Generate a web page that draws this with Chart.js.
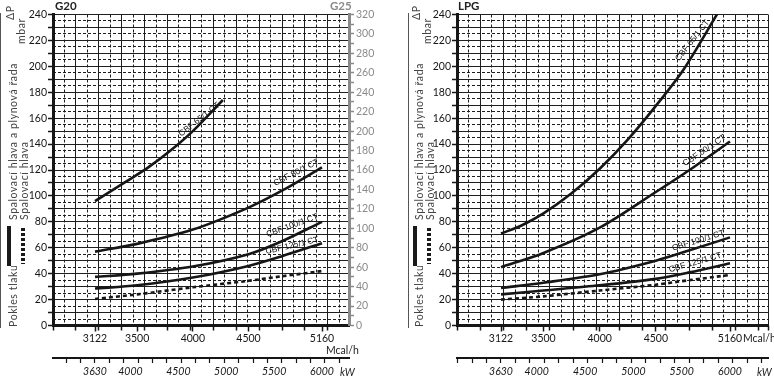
<!DOCTYPE html>
<html><head><meta charset="utf-8">
<script src="https://cdn.jsdelivr.net/npm/chart.js@4.4.0/dist/chart.umd.min.js"></script>
<style>
body{margin:0;background:#fff;width:774px;height:383px;overflow:hidden;position:relative;font-family:Lato,"Liberation Sans",sans-serif;color:#222}
canvas{position:absolute;top:0}
.t{position:absolute;white-space:nowrap;line-height:12px;font-size:10.5px}
.v{transform-origin:0 0;transform:rotate(-90deg);font-size:10.5px;letter-spacing:.6px;color:#444}
.b{font-weight:bold;font-size:11.5px}
.c{font-family:"Liberation Sans",sans-serif;font-size:8.5px;color:#111}
</style></head><body>
<canvas id="g20" width="390" height="383" style="left:0"></canvas>
<canvas id="lpg" width="384" height="383" style="left:390px"></canvas>
<script>
Chart.defaults.font.family = 'Lato, "Liberation Sans", sans-serif';
Chart.defaults.color = "#111";

// axis labels
const mcalTicks = [3122, 3500, 4000, 4500, 5160];
const kwTicks = [3630, 4000, 4500, 5000, 5500, 6000];
const mbarTicks = [0, 20, 40, 60, 80, 100, 120, 140, 160, 180, 200, 220, 240];
const g25Ticks = [0, 20, 40, 60, 80, 100, 120, 140, 160, 180, 200, 220, 240, 260, 280, 300, 320];
const names = ["CBF 65/1 CT", "CBF 80/1 CT", "CBF 100/1 CT", "CBF 125/1 CT"];

// G20, mbar against Mcal/h
const g20X65 = [3122, 3400, 3600, 3800, 4000, 4270];
const g20Cbf65 = [96, 111, 122, 135, 150, 174];
const g20X = [3122, 3500, 4000, 4500, 4800, 5160];
const g20Cbf80 = [57, 63, 74, 91, 104, 122];
const g20Cbf100 = [37.5, 40, 45.5, 55, 65, 80];
const g20Cbf125 = [28.5, 31, 37, 46, 53.5, 63.5];
const g20Head = [20.5, 24, 29.5, 34.5, 38, 42];

// LPG
const lpgX65 = [3122, 3300, 3500, 3750, 4000, 4250, 4500, 4750, 5050];
const lpgCbf65 = [71, 77, 86.5, 102, 121, 143.5, 169.5, 198, 241];
const lpgX = [3122, 3500, 4000, 4500, 4800, 5160];
const lpgCbf80 = [45, 56, 75.5, 103, 120, 142];
const lpgCbf100 = [29, 33, 39.5, 50, 58, 68];
const lpgCbf125 = [24, 27, 31, 36, 41, 48];
const lpgHead = [20, 22.5, 27, 31.5, 35, 39];

const step = (a, b, d) => { const r = []; for (let v = a; v <= b + 1e-6; v += d) r.push(+v.toFixed(3)); return r; };
const setTicks = arr => s => { s.ticks = arr.map(v => ({value: v})); };
const size = (w, h) => s => { if (w != null) s.width = w; if (h != null) s.height = h; };
const INK = "#161616", GRID = "#1e1e1e", GREY = "#8a8a8a";

function panel(id, o){
  const datasets = o.lines.map(l => ({
    xAxisID: "x", yAxisID: "y",
    data: l.x.map((x, i) => ({x, y: l.y[i]})),
    borderColor: INK, borderWidth: 2.6, pointRadius: 0, fill: false,
    tension: 0.3, borderCapStyle: "butt",
    borderDash: l.dash ? [4, 3] : []
  }));
  const kwMin = o.mMin / 0.86, kwMax = o.mMax / 0.86;
  const kwMinor = step(3630 - 150 * Math.floor((3630 - kwMin) / 150), kwMax, 150);
  const kwAll = [...new Set([...kwMinor, ...kwTicks])].sort((a, b) => a - b);
  const evens = step(0, o.cells, 2).concat(o.edge ? [o.cells] : []);
  const odds = step(1, o.cells, 2);

  const scales = {
    x: {axis: "x", type: "linear", position: "bottom", weight: 0, min: o.mMin, max: o.mMax,
      afterFit: size(null, 32.5), afterBuildTicks: setTicks(mcalTicks),
      ticks: {autoSkip: false, maxRotation: 0, padding: 1, font: {size: 10.5}, color: INK, callback: v => String(v)},
      grid: {drawOnChartArea: false, tickLength: 6, tickColor: INK, tickWidth: 1.5},
      border: {color: INK, width: 3}},
    y: {axis: "y", type: "linear", position: "left", weight: 0, min: 0, max: 240,
      afterFit: size(o.yw, null), afterBuildTicks: setTicks(step(0, 240, 10)),
      ticks: {autoSkip: false, padding: 1, font: {size: 10.5}, color: INK,
        callback: v => mbarTicks.includes(v) ? String(v) : ""},
      grid: {color: GRID, lineWidth: 1, tickLength: 5, tickColor: INK, tickWidth: 1.5},
      border: {color: INK, width: 3}},
    xs: {axis: "x", type: "linear", position: "bottom", weight: -2, min: 0, max: o.cells,
      afterFit: size(null, 0), afterBuildTicks: setTicks(evens),
      ticks: {display: false}, border: {display: false},
      grid: {color: GRID, lineWidth: 1, tickLength: 5, tickColor: INK, tickWidth: 1.5}},
    xd: {axis: "x", type: "linear", position: "bottom", weight: -1, min: 0, max: o.cells,
      afterFit: size(null, 0), afterBuildTicks: setTicks(odds),
      ticks: {display: false}, border: {display: false, dash: [3, 2]},
      grid: {color: GRID, lineWidth: 1, drawTicks: false}},
    xk: {axis: "x", type: "linear", position: "bottom", weight: 1, min: kwMin, max: kwMax,
      afterFit: size(null, 25), afterBuildTicks: setTicks(kwAll),
      ticks: {autoSkip: false, maxRotation: 0, padding: 2, font: {size: 10.5, style: "italic"}, color: INK,
        callback: v => kwTicks.includes(v) ? String(v) : ""},
      grid: {drawOnChartArea: false, tickLength: 5, tickWidth: 1.2,
        tickColor: c => kwMinor.includes(c.tick.value) ? INK : "rgba(0,0,0,0)"},
      border: {color: INK, width: 2}},
    yd: {axis: "y", type: "linear", position: "left", weight: -1, min: 0, max: 240,
      afterFit: size(0, null), afterBuildTicks: setTicks(step(5, 240, 10)),
      ticks: {display: false}, border: {display: false, dash: [3, 2]},
      grid: {color: GRID, lineWidth: 1, drawTicks: false}}
  };
  if (o.g25) scales.y2 = {axis: "y", type: "linear", position: "right", min: 0, max: 320,
    afterFit: size(41, null), afterBuildTicks: setTicks(step(0, 320, 10)),
    ticks: {autoSkip: false, padding: 2, font: {size: 10.5}, color: GREY,
      callback: v => g25Ticks.includes(v) ? String(v) : ""},
    grid: {drawOnChartArea: false, tickLength: 5, tickColor: GREY, tickWidth: 1.5},
    border: {color: GREY, width: 3}};

  new Chart(document.getElementById(id), {
    type: "line",
    data: {datasets},
    options: {
      responsive: false, animation: false, events: [],
      layout: {padding: {top: 14.5, right: o.padR, left: 0, bottom: 0}},
      plugins: {legend: {display: false}, tooltip: {enabled: false}},
      scales
    }
  });
}

panel("g20", {mMin: 2744.7, mMax: 5402.4, cells: 25.85, yw: 53, padR: 0, g25: true, edge: false, lines: [
  {x: g20X65, y: g20Cbf65}, {x: g20X, y: g20Cbf80}, {x: g20X, y: g20Cbf100},
  {x: g20X, y: g20Cbf125}, {x: g20X, y: g20Head, dash: true}]});
panel("lpg", {mMin: 2730.2, mMax: 5498.2, cells: 26.8, yw: 67, padR: 6, g25: false, edge: true, lines: [
  {x: lpgX65, y: lpgCbf65}, {x: lpgX, y: lpgCbf80}, {x: lpgX, y: lpgCbf100},
  {x: lpgX, y: lpgCbf125}, {x: lpgX, y: lpgHead, dash: true}]});

// page text
function put(s, x, y, cls, tr){
  const d = document.createElement("div");
  d.className = "t " + (cls || "");
  d.textContent = s;
  d.style.left = x + "px"; d.style.top = y + "px";
  if (tr) d.style.transform = tr;
  document.body.appendChild(d);
  return d;
}
function box(x, y, w, h, bg){
  const d = document.createElement("div");
  d.style.cssText = `position:absolute;left:${x}px;top:${y}px;width:${w}px;height:${h}px;background:${bg}`;
  document.body.appendChild(d);
}
[0, 406].forEach(dx => {
  box(dx + (dx ? 2 : 0), 13, 1, 315, "#555");
  put("ΔP", dx + 4, 20, "v");
  put("mbar", dx + 15, 44, "v");
  put("Spalovací hlava a plynová řada", dx + 7, 220, "v");
  put("Spalovací hlava", dx + 18, 220, "v");
  box(dx + 7, 226, 4, 40, "#1a1a1a");
  box(dx + 21, 228, 4, 36, "repeating-linear-gradient(#1a1a1a 0 3px,transparent 3px 5px)");
  put("Pokles tlaku", dx + 7, 327, "v");
});
put("G20", 55, 0, "b");
put("G25", 330, 0, "b").style.color = GREY;
put("LPG", 458, 0, "b");
put("Mcal/h", 326, 344);
put("kW", 340, 366).style.fontStyle = "italic";
put("Mcal/h", 743, 332);
put("kW", 757, 366).style.fontStyle = "italic";

const lab = (s, cx, cy, a) => put(s, cx, cy, "c", `translate(-50%,-50%) rotate(${a}deg)`);
lab(names[0], 199, 119, -38);
lab(names[1], 296, 172, -27);
lab(names[2], 292, 225, -20);
lab(names[3], 292, 245, -13);
lab(names[0], 692, 40, -52);
lab(names[1], 704, 150, -34);
lab(names[2], 698, 240, -17);
lab(names[3], 695, 262, -16);
</script>
</body></html>
